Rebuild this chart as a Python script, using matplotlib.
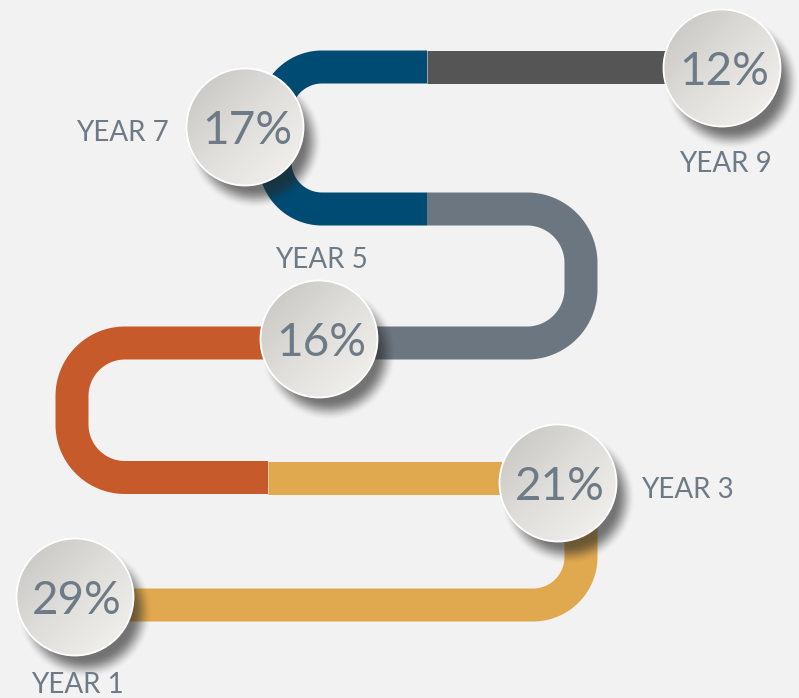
import numpy as np
import matplotlib
matplotlib.use("Agg")
import matplotlib.pyplot as plt
from matplotlib.patches import Circle
from matplotlib.colors import LinearSegmentedColormap

# ---- data ----
years = ["YEAR 1", "YEAR 3", "YEAR 5", "YEAR 7", "YEAR 9"]
shares = [29, 21, 16, 17, 12]

# ---- layout (pixel space, y down) ----
W, H = 799, 698
centers = [(75, 597), (558, 483), (319, 339), (245, 127), (722, 68)]
R = 58.5
label_pos = [(77, 683, 'center'), (641, 488, 'left'), (321, 258, 'center'),
             (169, 131, 'right'), (725, 162, 'center')]

BG = '#F2F2F2'
TXT = '#6E7B86'
YELLOW = '#E0A94F'
ORANGE = '#C75A2A'
GRAY = '#6C7680'
BLUE = '#004B73'
DARK = '#555555'

fig = plt.figure(figsize=(W / 100, H / 100), dpi=100)
fig.patch.set_facecolor(BG)
ax = fig.add_axes([0, 0, 1, 1])
ax.set_facecolor(BG)
ax.set_xlim(0, W)
ax.set_ylim(H, 0)
ax.axis('off')


def arc(cx, cy, r, t0, t1, n=40):
    t = np.radians(np.linspace(t0, t1, n))
    return np.c_[cx + r * np.cos(t), cy + r * np.sin(t)]


def seg(*pts):
    return np.vstack([np.atleast_2d(p) for p in pts])


y5, y4, y3, y2, y1 = 605, 477.5, 343, 209, 67
LW = 33 * 72 / 100

roads = [
    (YELLOW, seg((75, y5), (533, y5), arc(533, 557, 48, 90, 0), (581, 483))),
    (YELLOW, seg((558, y4), (268, y4))),
    (ORANGE, seg((268, y4), (125, y4), arc(125, 424.5, 53, 90, 180), (72, 396),
                 arc(125, 396, 53, 180, 270), (319, y3))),
    (GRAY, seg((319, y3), (527, y3), arc(527, 289, 54, 90, 0), (581, 263),
               arc(527, 263, 54, 0, -90), (427, y2))),
    (BLUE, seg((427, y2), (322, y2), arc(322, 162, 47, 90, 180), (275, 114),
               arc(322, 114, 47, 180, 270), (427, y1))),
    (DARK, seg((427, y1), (722, y1))),
]
for col, p in roads:
    ax.plot(p[:, 0], p[:, 1], color=col, lw=LW, solid_capstyle='butt',
            solid_joinstyle='round', zorder=2)

# ---- shadows ----
yy, xx = np.mgrid[0:H, 0:W] + 0.5
alpha = np.zeros((H, W))
for cx, cy in centers:
    d = np.hypot(xx - (cx + 10), yy - (cy + 14))
    a = np.clip((R + 9 - d) / 20, 0, 1)
    a = a * a * (3 - 2 * a)
    alpha = np.maximum(alpha, a)
shadow = np.zeros((H, W, 4))
shadow[..., :3] = 0.15
shadow[..., 3] = alpha * 0.62
ax.imshow(shadow, extent=(0, W, H, 0), zorder=3, aspect='auto',
          interpolation='bilinear')

# ---- circles ----
g = np.linspace(0, 1, 200)
gx, gy = np.meshgrid(g, g)
tt = (gx + gy) / 2
cmap = LinearSegmentedColormap.from_list('c', ['#C4C3BF', '#E0DFDB', '#F6F4F0'])
for cx, cy in centers:
    im = ax.imshow(tt, cmap=cmap, vmin=0, vmax=1,
                   extent=(cx - R, cx + R, cy + R, cy - R), zorder=4,
                   aspect='auto', interpolation='bilinear')
    clip = Circle((cx, cy), R, transform=ax.transData, facecolor='none',
                  edgecolor='none')
    ax.add_patch(clip)
    im.set_clip_path(clip)
    ax.add_patch(Circle((cx, cy), R, fill=False, ec='white', lw=1.3, zorder=5))

# ---- texts ----
for (cx, cy), v in zip(centers, shares):
    ax.text(cx + 2, cy + 17, f"{v}%", fontsize=33, color=TXT, ha='center',
            va='baseline', family=['Lato', 'DejaVu Sans'], zorder=6)
for (lx, ly, ha), name in zip(label_pos, years):
    ax.text(lx, ly + 10, name, fontsize=20, color=TXT, ha=ha, va='baseline',
            family=['Lato', 'DejaVu Sans'], zorder=6)

ax.set_xlim(0, W)
ax.set_ylim(H, 0)
fig.savefig('out.png', dpi=100, facecolor=BG)
